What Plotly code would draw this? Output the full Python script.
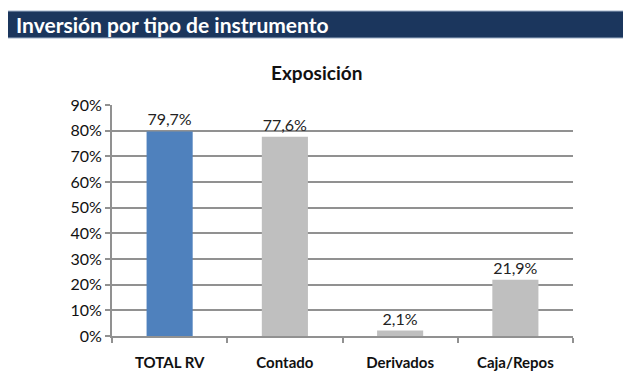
import plotly.graph_objects as go

categories = ["TOTAL RV", "Contado", "Derivados", "Caja/Repos"]
values = [0.797, 0.776, 0.021, 0.219]
bar_colors = ["#4F81BD", "#BFBFBF", "#BFBFBF", "#BFBFBF"]

header_title = "Inversión por tipo de instrumento"
chart_title = "Exposición"

OFF = 8  # page offset
W, H = 631, 384
L, R, T, B = 112 - OFF, W - (573 - OFF), 105 - OFF, H - (336 - OFF)
pw = W - L - R
ph = H - T - B

def px_x(x):
    return (x - OFF - L) / pw

def px_y(y):
    return (H - B - (y - OFF)) / ph

FONT = "Lato, Open Sans, sans-serif"
GRID = "#919191"

fig = go.Figure()
fig.add_trace(go.Bar(
    x=categories, y=values,
    marker=dict(color=bar_colors, line=dict(width=0)),
    texttemplate="%{y:.1%}", textposition="outside",
    textfont=dict(family=FONT, size=16, color="#222222"),
    cliponaxis=False,
))

fig.update_layout(
    width=W, height=H,
    margin=dict(l=L, r=R, t=T, b=B, pad=0),
    paper_bgcolor="white", plot_bgcolor="white",
    separators=",.",
    showlegend=False,
    bargap=0.6,
    font=dict(family=FONT, color="#111111"),
    xaxis=dict(
        type="category", tickson="boundaries", ticks="outside", ticklen=5,
        tickcolor=GRID, tickwidth=2,
        showline=True, linecolor=GRID, linewidth=2,
        showgrid=False, ticklabelstandoff=12,
        tickfont=dict(size=15, family=FONT, color="#111111", weight="bold"),
    ),
    yaxis=dict(
        range=[0, 0.9], dtick=0.1, tickformat=".0%",
        showgrid=True, gridcolor=GRID, gridwidth=2,
        showline=True, linecolor=GRID, linewidth=2,
        ticks="outside", ticklen=5, tickcolor=GRID, tickwidth=2,
        tickfont=dict(size=16, color="#111111"),
        zeroline=False,
    ),
    shapes=[dict(
        type="rect", xref="paper", yref="paper",
        x0=px_x(4), x1=px_x(640), y0=px_y(38), y1=px_y(11),
        fillcolor="#1B365D", line=dict(width=1, color="#9FB0C8"), layer="above",
    )],
    annotations=[
        dict(text=header_title, xref="paper", yref="paper",
             x=px_x(14), y=px_y(25), xanchor="left", yanchor="middle",
             showarrow=False,
             font=dict(family=FONT, size=21, color="white", weight="bold")),
        dict(text=chart_title, xref="paper", yref="paper",
             x=px_x(316), y=px_y(72), xanchor="center", yanchor="middle",
             showarrow=False,
             font=dict(family=FONT, size=19, color="#111111", weight="bold")),
    ],
)

fig.write_html("out.html")
